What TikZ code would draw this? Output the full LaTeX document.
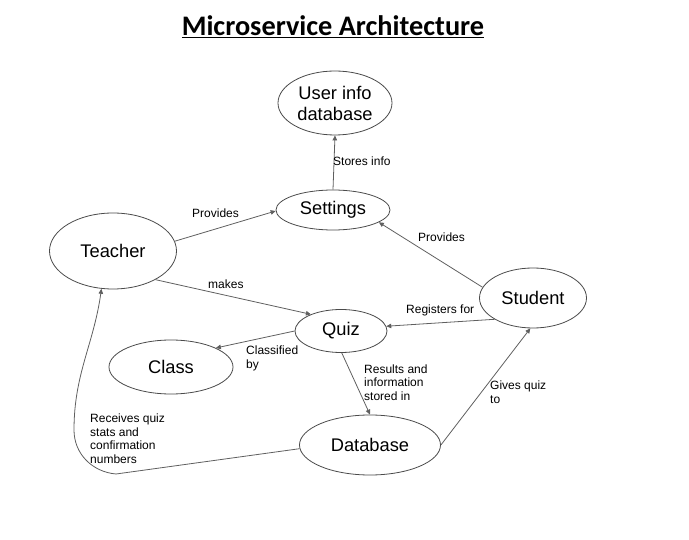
\documentclass[tikz,border=0pt]{standalone}
\usepackage{fontspec}
\setmainfont{Liberation Sans}
\newfontfamily\titlefont{Carlito}
\usetikzlibrary{shapes.geometric,arrows.meta}
\definecolor{edgegray}{HTML}{5F5F5F}
\definecolor{ringgray}{HTML}{4A4A4A}
\begin{document}
\begin{tikzpicture}[x=1pt,y=-1pt,
  ent/.style={ellipse,draw=ringgray,line width=0.8pt,inner sep=0pt,font=\fontsize{18.3}{21}\selectfont,align=center},
  conn/.style={draw=edgegray,line width=0.8pt,-{Triangle[length=5pt,width=4.5pt]}},
  lab/.style={inner sep=0pt,anchor=base west,align=left,font=\fontsize{12}{14}\selectfont}]
\useasboundingbox (0,0) rectangle (689,540);
\node[inner sep=0pt,font=\titlefont\bfseries\fontsize{28.3}{32}\selectfont] (title) at (333,27) {\underline{Microservice Architecture}};
\node[ent,minimum width=114,minimum height=64] (userdb) at (335,103) {User info\\database};
\node[ent,minimum width=114,minimum height=40] (settings) at (333,210) {Settings};
\node[ent,minimum width=127,minimum height=76] (teacher) at (113,251) {Teacher};
\node[ent,minimum width=107,minimum height=60] (student) at (533,298) {Student};
\node[ent,minimum width=92,minimum height=43] (quiz) at (341,331) {Quiz};
\node[ent,minimum width=124,minimum height=54] (class) at (171,367) {Class};
\node[ent,minimum width=141,minimum height=60] (database) at (370,445) {Database};

\draw[conn] (settings.north) -- (userdb.south);
\draw[conn] (teacher.9) -- (settings.181);
\draw[conn] (teacher.-34) -- (quiz.151);
\draw[conn] (student.168) -- (settings.-15);
\draw[conn] (student.209) -- (quiz.6);
\draw[conn] (quiz.180) -- (class.23);
\draw[conn] (quiz.-88) -- (database.90);
\draw[conn] (database.0) -- (student.265);
\coordinate (c1) at (116,474);
\coordinate (c2) at (74,430);
\draw[conn] (database.183) -- (c1) to[out=175,in=-90] (c2) to[out=90,in=-98] (teacher.253);

\node[lab] (l1) at (333,166) {Stores info};
\node[lab] (l2) at (192,218) {Provides};
\node[lab] (l3) at (208,289) {makes};
\node[lab] (l4) at (418,242) {Provides};
\node[lab] (l5) at (406,314) {Registers for};
\node[lab] (l6) at (246,369) {Classified\\by};
\node[lab] (l7) at (364,401) {Results and\\information\\stored in};
\node[lab] (l8) at (490,404) {Gives quiz\\to};
\node[lab] (l9) at (90,464) {Receives quiz\\stats and\\confirmation\\numbers};
\end{tikzpicture}
\end{document}
